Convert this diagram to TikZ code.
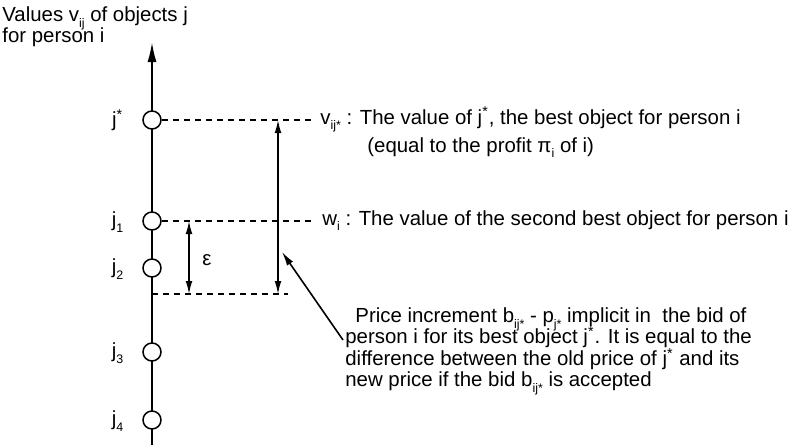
\documentclass[tikz,border=0pt]{standalone}
\usepackage{fontspec}
\setmainfont{Liberation Sans}
\usetikzlibrary{positioning,arrows.meta}
\newcommand{\dn}[1]{\raisebox{-0.55ex}[0pt][0pt]{\fontsize{6.2}{6.2}\selectfont #1}}
\newcommand{\st}{\textsuperscript{*}}

\begin{document}
\begin{tikzpicture}[
  x=0.5pt, y=-0.5pt,
  font=\fontsize{10.2}{10.8}\selectfont,
  obj/.style={circle, draw, line width=0.75pt, fill=white, minimum size=9pt, inner sep=0pt},
  txt/.style={inner sep=0pt, align=left},
  axis/.style={-{Latex[length=10pt,width=4.5pt]}, line width=1pt},
  ar/.style={{Latex[length=6.5pt,width=3.4pt]}-{Latex[length=6.5pt,width=3.4pt]}, line width=0.7pt},
  ptr/.style={-{Latex[length=7pt,width=3.6pt]}, line width=0.8pt},
  dsh/.style={line width=0.6pt, dash pattern=on 3pt off 2.5pt}
]
\useasboundingbox (0,0) rectangle (791,445);
% value axis
\coordinate (bot) at (152,445);
\coordinate (top) at (152,42);
\draw[axis] (bot) -- (top);
\node[txt, anchor=north west] (axlab) at (2,6) {Values v\dn{ij} of objects j\\for person i};
% objects
\node[obj, label={[label distance=6pt]left:j\st}]    (js) at (152,120) {};
\node[obj, label={[label distance=6pt]left:j\dn{1}}] (j1) at (152,221) {};
\node[obj, label={[label distance=6pt]left:j\dn{2}}] (j2) at (152,268) {};
\node[obj, label={[label distance=6pt]left:j\dn{3}}] (j3) at (152,352) {};
\node[obj, label={[label distance=6pt]left:j\dn{4}}] (j4) at (152,420) {};
% dashed levels
\coordinate (vend) at (313,120);
\coordinate (wend) at (313,221);
\coordinate (bl)   at (152,294);
\coordinate (bend) at (288,294);
\draw[dsh] (js) -- (vend);
\draw[dsh] (j1) -- (wend);
\draw[dsh] (bl) -- (bend);
\node[txt, anchor=base west] (vnote) at (320,124) {v\dn{ij*} : The value of j\st, the best object for person i};
\node[txt, anchor=base west] (vnote2) at (367,152) {(equal to the profit π\dn{i} of i)};
\node[txt, anchor=base west] (wnote) at (322,225) {w\dn{i} : The value of the second best object for person i};
% increments
\coordinate (e1) at (189,221);
\coordinate (e2) at (189,294);
\draw[ar] (e1) -- (e2);
\node (eps) at (207,260) {ε};
\coordinate (b1) at (278,120);
\coordinate (b2) at (278,294);
\draw[ar] (b1) -- (b2);
% explanation
\node[txt, anchor=north west] (pnote) at (345,307) {\hspace*{5pt}Price increment b\dn{ij*} - p\dn{j*} implicit in\ \ the bid of\\
person i for its best object j\st. It is equal to the\\
difference between the old price of j\st{} and its\\
new price if the bid b\dn{ij*} is accepted};
\coordinate (ptail) at (343,340);
\coordinate (phead) at (282,252);
\draw[ptr] (ptail) -- (phead);
\end{tikzpicture}
\end{document}
